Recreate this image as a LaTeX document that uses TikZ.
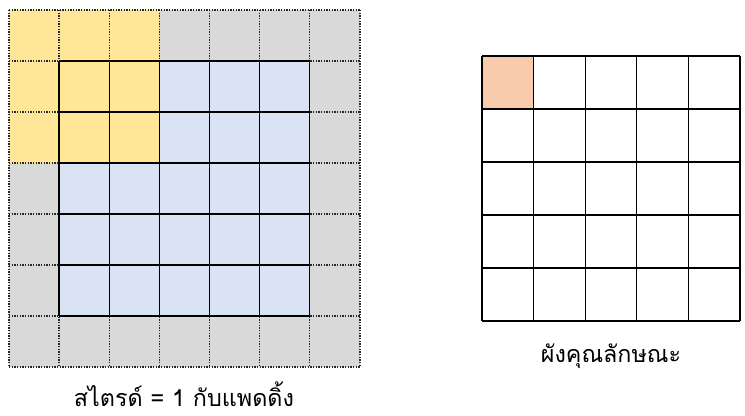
\documentclass[tikz,border=0pt]{standalone}
\usepackage{fontspec}
\usepackage{xcolor}
\newfontfamily\thaifont[Script=Thai]{Loma}
\definecolor{jaune}{RGB}{255,230,153}
\definecolor{bleuclair}{RGB}{218,227,243}
\definecolor{gris}{RGB}{217,217,217}
\definecolor{orange}{RGB}{248,203,173}

\begin{document}
\begin{tikzpicture}[x=0.75pt, y=-0.75pt, font=\thaifont,
  pointille/.style={draw=black!85, line width=1pt, dash pattern=on 1pt off 1pt},
  trait/.style={draw=black, line width=1pt},
  legende/.style={font=\thaifont\fontsize{17.5}{20}\selectfont, inner sep=0pt, anchor=base}]
\useasboundingbox (0,0) rectangle (745,416);
% grille d'entree avec bourrage
\begin{scope}[xshift=6.75pt, yshift=-7.5pt, x=37.6pt, y=-38.25pt]
  \fill[gris] (0,0) rectangle (7,7);
  \fill[bleuclair] (1,1) rectangle (6,6);
  \fill[jaune] (0,0) rectangle (3,3);
  \foreach \i in {0,...,7} {
    \draw[pointille] (\i,0) -- (\i,7);
    \draw[pointille] (0,\i) -- (7,\i);
  }
  \foreach \i in {1,...,6} {
    \draw[trait] (\i,1) -- (\i,6);
    \draw[trait] (1,\i) -- (6,\i);
  }
\end{scope}
% grille de sortie
\begin{scope}[xshift=361.5pt, yshift=-42pt, x=38.7pt, y=-39.75pt]
  \fill[orange] (0,0) rectangle (1,1);
  \foreach \i in {0,...,5} {
    \draw[trait] (\i,0) -- (\i,5);
    \draw[trait] (0,\i) -- (5,\i);
  }
\end{scope}
\node[legende] (pas) at (184,406) {สไตรด์ = 1 กับแพดดิ้ง};
\node[legende] (carte) at (611,362) {ผังคุณลักษณะ};
\end{tikzpicture}
\end{document}
